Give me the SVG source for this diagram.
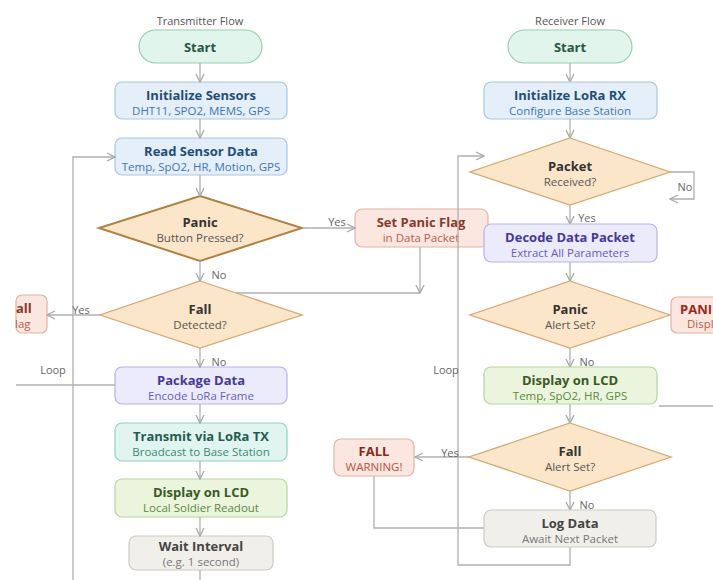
<svg xmlns="http://www.w3.org/2000/svg" width="713" height="580" viewBox="0 0 713 580">
<defs>
<marker id="arr" viewBox="0 0 10 10" refX="9" refY="5" markerWidth="10" markerHeight="10" markerUnits="userSpaceOnUse" orient="auto">
<path d="M1,1 L9,5 L1,9" fill="none" stroke="#a8a8a8" stroke-width="1.3"/>
</marker>
<style>
text{font-family:"Open Sans","Noto Sans","Liberation Sans",sans-serif;text-anchor:middle}
.t{font-size:13px;font-weight:700}
.s{font-size:11.5px}
.hdr{font-size:11px;fill:#555}
.lbl{font-size:11px;fill:#666}
.ln{fill:none;stroke:#b0b0b0;stroke-width:1.3}
.ar{fill:none;stroke:#b0b0b0;stroke-width:1.3;marker-end:url(#arr)}
.start rect{fill:#e2f5ec;stroke:#92d0b2;stroke-width:1.2}
.start text{fill:#1f5a43}
.blue rect{fill:#e4effa;stroke:#a9c5e3;stroke-width:1.2}
.blue .t{fill:#1f4e79}.blue .s{fill:#3b77b3}
.dia polygon{fill:#fce6ca;stroke:#d4aa70;stroke-width:1.3}
.dia .t{fill:#333}.dia .s{fill:#555}
.red rect{fill:#fbe7e0;stroke:#e2b3a3;stroke-width:1.2}
.red .t{fill:#8a3a28}.red .s{fill:#b5604a}
.pur rect{fill:#ecebfb;stroke:#b8b3e5;stroke-width:1.2}
.pur .t{fill:#47399c}.pur .s{fill:#6a5cc0}
.teal rect{fill:#e1f5f0;stroke:#92d2c2;stroke-width:1.2}
.teal .t{fill:#1f5e4e}.teal .s{fill:#3a8a72}
.grn rect{fill:#ebf5dd;stroke:#b6d69c;stroke-width:1.2}
.grn .t{fill:#3a5a22}.grn .s{fill:#5a8a3a}
.gry rect{fill:#f1efea;stroke:#cfcac1;stroke-width:1.2}
.gry .t{fill:#444}.gry .s{fill:#777}
</style>
</defs>
<rect width="713" height="580" fill="#ffffff"/>
<text class="hdr" x="200" y="25">Transmitter Flow</text>
<text class="hdr" x="570" y="25">Receiver Flow</text>

<g id="tx-start" class="start"><rect x="139" y="30" width="123" height="33" rx="16.5"/><text class="t" x="200" y="52">Start</text></g>
<g id="tx-init" class="blue"><rect x="115" y="82" width="172" height="37" rx="7"/><text class="t" x="201" y="100">Initialize Sensors</text><text class="s" x="201" y="115">DHT11, SPO2, MEMS, GPS</text></g>
<g id="tx-read" class="blue"><rect x="115" y="138" width="172" height="37" rx="7"/><text class="t" x="201" y="156">Read Sensor Data</text><text class="s" x="201" y="171">Temp, SpO2, HR, Motion, GPS</text></g>
<g id="tx-panic" class="dia"><polygon points="200,196 302,228 200,261 99,228" style="stroke:#b0813f;stroke-width:2"/><text class="t" x="200" y="227">Panic</text><text class="s" x="200" y="242">Button Pressed?</text></g>
<g id="tx-fall" class="dia"><polygon points="200,281 302,315 200,348 100,315"/><text class="t" x="200" y="314">Fall</text><text class="s" x="200" y="329">Detected?</text></g>
<g id="tx-setpanic" class="red"><rect x="355" y="209" width="133" height="38" rx="7"/><text class="t" x="421" y="227">Set Panic Flag</text><text class="s" x="421" y="242">in Data Packet</text></g>
<g id="tx-setfall" class="red"><rect x="16" y="295" width="31" height="38" rx="6"/><text class="t" x="16" y="313" style="text-anchor:start">all</text><text class="s" x="15" y="328" style="text-anchor:start">lag</text></g>
<g id="tx-package" class="pur"><rect x="115" y="367" width="172" height="37" rx="7"/><text class="t" x="201" y="385">Package Data</text><text class="s" x="201" y="400">Encode LoRa Frame</text></g>
<g id="tx-transmit" class="teal"><rect x="115" y="423" width="172" height="38" rx="7"/><text class="t" x="201" y="441">Transmit via LoRa TX</text><text class="s" x="201" y="456">Broadcast to Base Station</text></g>
<g id="tx-display" class="grn"><rect x="115" y="479" width="172" height="38" rx="7"/><text class="t" x="201" y="497">Display on LCD</text><text class="s" x="201" y="512">Local Soldier Readout</text></g>
<g id="tx-wait" class="gry"><rect x="129" y="536" width="144" height="34" rx="7"/><text class="t" x="201" y="551">Wait Interval</text><text class="s" x="201" y="566">(e.g. 1 second)</text></g>

<g id="connectors">
<line class="ar" x1="200" y1="63" x2="200" y2="82"/>
<line class="ar" x1="200" y1="119" x2="200" y2="138"/>
<line class="ar" x1="200" y1="175" x2="200" y2="196"/>
<line class="ar" x1="200" y1="261" x2="200" y2="281"/>
<line class="ar" x1="200" y1="348" x2="200" y2="367"/>
<line class="ar" x1="200" y1="404" x2="200" y2="423"/>
<line class="ar" x1="200" y1="461" x2="200" y2="479"/>
<line class="ar" x1="200" y1="517" x2="200" y2="536"/>
<line class="ln" x1="200" y1="570" x2="200" y2="580"/>
<line class="ar" x1="302" y1="228" x2="355" y2="228"/>
<line class="ar" x1="420" y1="247" x2="420" y2="293"/>
<line class="ln" x1="236" y1="293" x2="420" y2="293"/>
<line class="ar" x1="100" y1="315" x2="47" y2="315"/>
<polyline class="ar" points="73,580 73,157 115,157"/>
<line class="ln" x1="16" y1="385" x2="115" y2="385"/>
<line class="ar" x1="570" y1="63" x2="570" y2="82"/>
<line class="ar" x1="570" y1="119" x2="570" y2="138"/>
<line class="ar" x1="570" y1="205" x2="570" y2="224"/>
<polyline class="ar" points="670,172 694,172 694,199 670,199"/>
<line class="ar" x1="570" y1="262" x2="570" y2="281"/>
<line class="ar" x1="570" y1="348" x2="570" y2="367"/>
<line class="ar" x1="570" y1="404" x2="570" y2="423"/>
<line class="ar" x1="570" y1="491" x2="570" y2="510"/>
<line class="ar" x1="469" y1="457" x2="415" y2="457"/>
<polyline class="ln" points="374,476 374,528 484,528"/>
<polyline class="ar" points="570,547 570,565 458,565 458,156 484,156"/>
<line class="ln" x1="659" y1="406" x2="713" y2="406"/>
<text class="lbl" x="337" y="226">Yes</text>
<text class="lbl" x="219" y="279">No</text>
<text class="lbl" x="219" y="366">No</text>
<text class="lbl" x="81" y="314">Yes</text>
<text class="lbl" x="53" y="374">Loop</text>
<text class="lbl" x="587" y="222">Yes</text>
<text class="lbl" x="685" y="191">No</text>
<text class="lbl" x="587" y="366">No</text>
<text class="lbl" x="683" y="318">Yes</text>
<text class="lbl" x="450" y="457">Yes</text>
<text class="lbl" x="587" y="509">No</text>
<text class="lbl" x="446" y="374">Loop</text>
</g>

<g id="rx-start" class="start"><rect x="508" y="30" width="124" height="33" rx="16.5"/><text class="t" x="570" y="52">Start</text></g>
<g id="rx-init" class="blue"><rect x="484" y="82" width="173" height="37" rx="7"/><text class="t" x="570" y="100">Initialize LoRa RX</text><text class="s" x="570" y="115">Configure Base Station</text></g>
<g id="rx-packet" class="dia"><polygon points="570,138 670,172 570,205 470,172"/><text class="t" x="570" y="171">Packet</text><text class="s" x="570" y="186">Received?</text></g>
<g id="rx-decode" class="pur"><rect x="484" y="224" width="173" height="38" rx="7"/><text class="t" x="570" y="242">Decode Data Packet</text><text class="s" x="570" y="257">Extract All Parameters</text></g>
<g id="rx-panic" class="dia"><polygon points="570,281 670,315 570,348 470,315"/><text class="t" x="570" y="314">Panic</text><text class="s" x="570" y="329">Alert Set?</text></g>
<g id="rx-panicdisp" class="red"><rect x="671" y="297" width="60" height="36" rx="6"/><text class="t" x="680" y="314" style="text-anchor:start;fill:#9a2a1a">PANI</text><text class="s" x="687" y="328" style="text-anchor:start">Displ</text></g>
<g id="rx-display" class="grn"><rect x="484" y="367" width="173" height="37" rx="7"/><text class="t" x="570" y="385">Display on LCD</text><text class="s" x="570" y="400">Temp, SpO2, HR, GPS</text></g>
<g id="rx-fall" class="dia"><polygon points="570,423 671,457 570,491 469,457"/><text class="t" x="570" y="456">Fall</text><text class="s" x="570" y="471">Alert Set?</text></g>
<g id="rx-fallwarn" class="red"><rect x="334" y="439" width="80" height="37" rx="7"/><text class="t" x="374" y="456" style="fill:#8a2a1a">FALL</text><text class="s" x="374" y="471" style="fill:#c0503a">WARNING!</text></g>
<g id="rx-log" class="gry"><rect x="484" y="510" width="172" height="37" rx="7"/><text class="t" x="570" y="528">Log Data</text><text class="s" x="570" y="543">Await Next Packet</text></g>
</svg>
